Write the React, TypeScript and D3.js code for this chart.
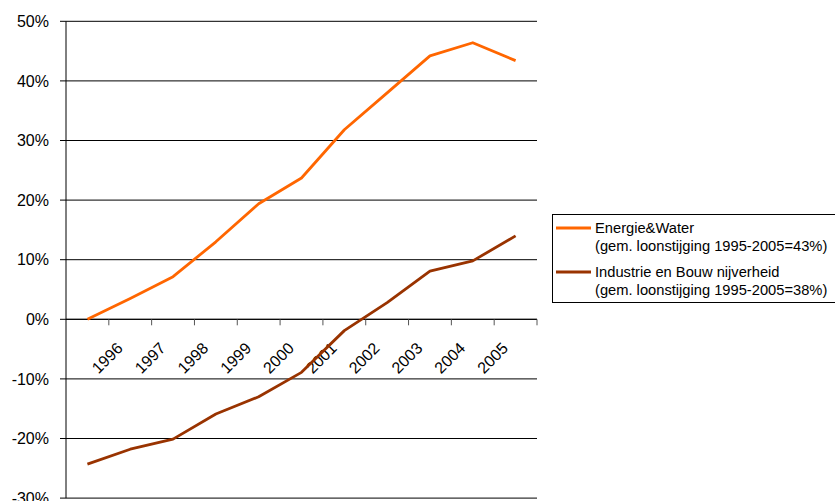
import React from "react";
import * as d3 from "d3";

// Category axis: 1995 has no visible label
const categories = ["", "1996", "1997", "1998", "1999", "2000", "2001", "2002", "2003", "2004", "2005"];

// Cumulative wage increase vs. 1995 (%)
const energieWater = [0, 3.5, 7.15, 13.0, 19.4, 23.7, 31.8, 38.0, 44.2, 46.4, 43.4];
const industrieBouw = [-24.3, -21.8, -20.1, -15.9, -13.0, -8.9, -1.9, 2.8, 8.1, 9.8, 14.0];

const yTicks = [50, 40, 30, 20, 10, 0, -10, -20, -30];

const legendItems = [
  { lines: ["Energie&Water", "(gem. loonstijging 1995-2005=43%)"], color: "#FF6600" },
  { lines: ["Industrie en Bouw nijverheid", "(gem. loonstijging 1995-2005=38%)"], color: "#993300" },
];

const W = 835;
const H = 501;
const FONT = "'Liberation Sans', Arial, sans-serif";

export default function App() {
  const left = 66;
  const right = 537;
  const top = 21.3;
  const bottom = 498.1;

  const x = d3
    .scaleBand<number>()
    .domain(d3.range(categories.length))
    .range([left, right])
    .padding(0);
  const cx = (i: number) => (x(i) as number) + x.bandwidth() / 2;

  const y = d3.scaleLinear().domain([-30, 50]).range([bottom, top]);
  const y0 = y(0);

  const line = d3
    .line<number>()
    .x((_, i) => cx(i))
    .y((d) => y(d));

  const series = [
    { values: energieWater, color: legendItems[0].color },
    { values: industrieBouw, color: legendItems[1].color },
  ];

  return (
    <svg
      width={W}
      height={H}
      style={{ position: "absolute", left: 0, top: 0, background: "#fff" }}
      fontFamily={FONT}
    >
      <rect x={0} y={0} width={W} height={H} fill="#fff" />

      {/* horizontal gridlines and value ticks */}
      {yTicks.map((t) => (
        <g key={t}>
          <line x1={left} x2={right} y1={y(t)} y2={y(t)} stroke="#000" strokeWidth={1} />
          <line x1={left - 6} x2={left} y1={y(t)} y2={y(t)} stroke="#000" strokeWidth={1} />
          <text
            x={49}
            y={y(t)}
            dy="0.36em"
            textAnchor="end"
            fontSize={16}
            fill="#000"
          >
            {`${t}%`}
          </text>
        </g>
      ))}

      {/* value axis */}
      <line x1={left} x2={left} y1={top} y2={bottom} stroke="#000" strokeWidth={1} />

      {/* category axis on the zero line */}
      <line x1={left} x2={right} y1={y0} y2={y0} stroke="#000" strokeWidth={1} />
      {d3.range(1, categories.length + 1).map((i) => {
        const xx = left + x.bandwidth() * i;
        return (
          <line key={i} x1={xx} x2={xx} y1={y0} y2={y0 + 6} stroke="#555" strokeWidth={1} />
        );
      })}
      {categories.map((c, i) =>
        c ? (
          <text
            key={i}
            transform={`translate(${cx(i) - 6.5},${y0 + 30}) rotate(-45)`}
            textAnchor="end"
            fontSize={16}
            fill="#000"
          >
            {c}
          </text>
        ) : null
      )}

      {/* series */}
      {series.map((s, k) => (
        <path
          key={k}
          d={line(s.values) || ""}
          fill="none"
          stroke={s.color}
          strokeWidth={2.8}
          strokeLinejoin="round"
        />
      ))}

      {/* legend */}
      <g>
        <rect x={552.5} y={214.5} width={300} height={88} fill="#fff" stroke="#000" strokeWidth={1} />
        {legendItems.map((it, k) => {
          const base = 228 + k * 44;
          return (
            <g key={k}>
              <line x1={556} x2={591} y1={base} y2={base} stroke={it.color} strokeWidth={2.8} />
              <text x={595} y={base + 4.5} fontSize={14.7} fill="#000">
                {it.lines[0]}
              </text>
              <text x={595} y={base + 22.5} fontSize={14.7} fill="#000">
                {it.lines[1]}
              </text>
            </g>
          );
        })}
      </g>
    </svg>
  );
}
